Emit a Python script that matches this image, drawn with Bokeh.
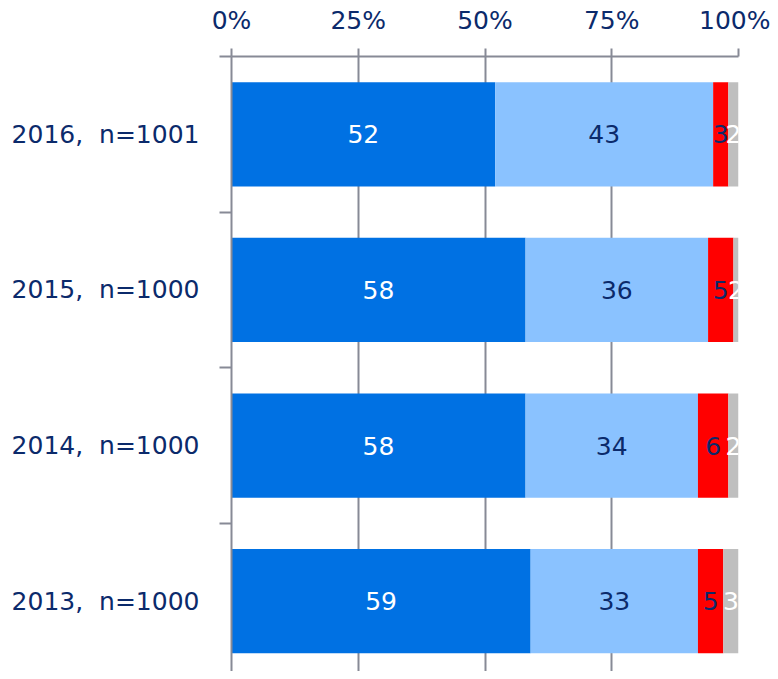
import numpy as np
from bokeh.plotting import figure
from bokeh.models import ColumnDataSource, Range1d, FixedTicker, LinearAxis, Grid
from bokeh.core.properties import value
from bokeh.embed import file_html
from bokeh.resources import INLINE

categories = ["2016, \u00a0n=1001", "2015, \u00a0n=1000", "2014, \u00a0n=1000", "2013, \u00a0n=1000"]
series_names = ["Very", "Fairly", "Not very", "Not at all"]
s1 = [52, 58, 58, 59]
s2 = [43, 36, 34, 33]
s3 = [3, 5, 6, 5]
s4 = [2, 2, 2, 3]
colors = ["#0071E3", "#8AC2FF", "#FF0000", "#BFBFBF"]
label_colors = ["#FFFFFF", "#0B2A6B", "#0B2A6B", "#FFFFFF"]
x_ticks = [0, 25, 50, 75, 100]
x_tick_labels = ["0%", "25%", "50%", "75%", "100%"]

NAVY = "#0B2A6B"
GRAY = "#878A96"
FONT = "DejaVu Sans"

n = len(categories)
ypos = [n - i - 0.5 for i in range(n)]
series = [s1, s2, s3, s4]

p = figure(width=770, height=671, output_backend="svg", toolbar_location=None,
           x_range=Range1d(0, 100), y_range=Range1d(0.048, n),
           x_axis_location=None, y_axis_location=None,
           min_border_left=231, min_border_right=32, min_border_top=56, min_border_bottom=0)
p.outline_line_color = None
p.background_fill_color = "white"

left = np.zeros(n)
lx, ly, lt, lc = [], [], [], []
for k, s in enumerate(series):
    vals = np.array(s, dtype=float)
    right = left + vals
    src = ColumnDataSource(dict(y=ypos, left=left.tolist(), right=right.tolist()))
    p.hbar(y="y", left="left", right="right", height=0.67, source=src,
           fill_color=colors[k], line_color=None)
    for i in range(n):
        lx.append((left[i] + min(right[i], 100)) / 2)
        ly.append(ypos[i])
        lt.append(str(s[i]))
        lc.append(label_colors[k])
    left = right

lsrc = ColumnDataSource(dict(x=lx, y=ly, t=lt, c=lc))
p.text(x="x", y="y", text="t", text_color="c", source=lsrc, text_align="center",
       text_baseline="middle", text_font=value(FONT), text_font_size="25px")

# top axis
xa = LinearAxis(ticker=FixedTicker(ticks=x_ticks, minor_ticks=[]))
xa.major_label_overrides = {t: l for t, l in zip(x_ticks, x_tick_labels)}
xa.axis_line_color = GRAY
xa.axis_line_width = 2
xa.major_tick_line_color = GRAY
xa.major_tick_line_width = 2
xa.major_tick_out = 8
xa.major_tick_in = 0
xa.minor_tick_line_color = None
xa.minor_tick_out = 0
xa.major_label_standoff = 14
xa.major_label_text_font = FONT
xa.major_label_text_font_size = "25px"
xa.major_label_text_color = NAVY
p.add_layout(xa, "above")

# left axis
ya = LinearAxis(ticker=FixedTicker(ticks=ypos, minor_ticks=[float(i) for i in range(0, n + 1)]))
ya.major_label_overrides = {y: c for y, c in zip(ypos, categories)}
ya.axis_line_color = GRAY
ya.axis_line_width = 2
ya.major_tick_line_color = None
ya.major_tick_out = 0
ya.major_tick_in = 0
ya.minor_tick_line_color = GRAY
ya.minor_tick_line_width = 2
ya.minor_tick_out = 12
ya.minor_tick_in = 0
ya.major_label_standoff = 20
ya.major_label_text_font = FONT
ya.major_label_text_font_size = "25px"
ya.major_label_text_color = NAVY
p.add_layout(ya, "left")

p.xgrid.visible = False
p.ygrid.visible = False
g = Grid(dimension=0, ticker=FixedTicker(ticks=x_ticks), grid_line_color=GRAY, grid_line_width=2)
p.add_layout(g)

open("out.html", "w").write(file_html(p, INLINE))
